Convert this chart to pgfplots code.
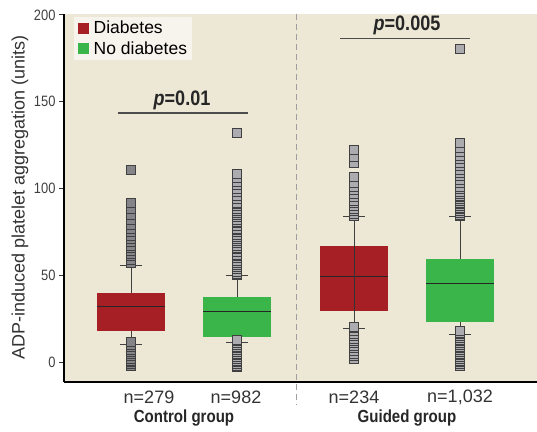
\documentclass[border=0pt]{standalone}
\usepackage{pgfplots}
\pgfplotsset{compat=1.18}
\usepgfplotslibrary{statistics}
\usepackage{fontspec}
\setmainfont{Liberation Sans}
\newfontfamily\cond{Liberation Sans}[FakeStretch=0.86]
\definecolor{dred}{HTML}{A61F24}
\definecolor{dgreen}{HTML}{3AB54A}
\definecolor{bgbeige}{HTML}{EDE8D6}
\definecolor{legbg}{HTML}{F6F4EC}
\definecolor{outl}{HTML}{ABABB0}
\definecolor{outld}{HTML}{858589}
\pgfplotsset{sqleg/.style={legend image code/.code={\fill[#1, draw=none] (1pt,-5.5pt) rectangle (12pt,5.5pt); \path[draw=none, fill=none] (0pt,0pt) rectangle (15pt,0.1pt);}}}
\begin{document}
\begin{tikzpicture}
\useasboundingbox (0pt,0pt) rectangle (537pt,431pt);
\begin{axis}[
  at={(64pt,49pt)}, anchor=south west,
  scale only axis, width=473pt, height=368pt,
  xmin=64, xmax=537, ymin=-11.5, ymax=200.5,
  axis lines*=left, axis line style={line width=1.5pt, black},
  axis background/.style={fill=bgbeige},
  xtick=\empty, ytick={0,50,100,150,200},
  tick align=outside, major tick length=5pt, tick style={line width=0.8pt, black!80},
  yticklabel style={font=\cond\fontsize{15}{18}\selectfont, text=black!75},
  /pgf/number format/assume math mode=true,
  boxplot/draw direction=y,
  clip=false,
  legend style={at={(0.0211,0.9918)}, anchor=north west, fill=legbg, draw=none,
    font=\fontsize{17.5}{20}\selectfont, inner xsep=3pt, inner ysep=2.5pt, row sep=3pt,
    nodes={inner sep=1.5pt}},
  legend cell align=left,
]
\addlegendimage{sqleg=dred}
\addlegendentry{Diabetes}
\addlegendimage{sqleg=dgreen}
\addlegendentry{No diabetes}

\draw[gray!75, dash pattern=on 6pt off 4pt, line width=0.8pt] (axis cs:296,200.5) -- (axis cs:296,-25);

% Control, diabetes
\addplot[boxplot prepared={draw position=131, median=31.9, upper quartile=39.8, lower quartile=18,
   upper whisker=55.5, lower whisker=10.4, box extend=68, whisker extend=22,
   every box/.style={fill=dred, draw=none},
   every median/.style={draw=black!85, line width=1pt},
   every whisker/.style={draw=black!75, line width=0.9pt}},
   mark=square*, mark size=4.5pt, mark options={fill=outld, draw=black!75, line width=0.6pt}]
 table[row sep=\\, y index=0] {data\\ -2\\ -1\\ 0\\ 1\\ 2\\ 3.5\\ 5\\ 6\\ 7\\ 8.5\\ 10\\ 11.5\\ 57\\ 59\\ 61\\ 62.5\\ 64\\ 66\\ 67\\ 69\\ 71\\ 73\\ 75\\ 77\\ 79\\ 82\\ 85\\ 88\\ 91.5\\ 111\\};

% Control, no diabetes
\addplot[boxplot prepared={draw position=237, median=29.4, upper quartile=37.5, lower quartile=14.6,
   upper whisker=49.6, lower whisker=11, box extend=68, whisker extend=22,
   every box/.style={fill=dgreen, draw=none},
   every median/.style={draw=black!85, line width=1pt},
   every whisker/.style={draw=black!75, line width=0.9pt}},
   mark=square*, mark size=4.5pt, mark options={fill=outl, draw=black!75, line width=0.6pt}]
 table[row sep=\\, y index=0] {data\\ -3\\ -2\\ -1\\ 0\\ 1\\ 2\\ 3\\ 4\\ 5\\ 6\\ 7\\ 8\\ 9\\ 10\\ 11\\ 12\\ 13\\ 50\\ 51\\ 52\\ 53.5\\ 55\\ 56\\ 57\\ 58.5\\ 60\\ 61\\ 62\\ 63.5\\ 65\\ 66\\ 67\\ 68.5\\ 70\\ 71\\ 72\\ 73.5\\ 75\\ 76\\ 77\\ 78.5\\ 80\\ 81\\ 82\\ 83.5\\ 85\\ 86\\ 87\\ 88.5\\ 90\\ 91\\ 92\\ 94\\ 96\\ 98\\ 100\\ 102\\ 104\\ 106\\ 108.5\\ 132\\};

% Guided, diabetes
\addplot[boxplot prepared={draw position=354, median=49, upper quartile=66.9, lower quartile=29.6,
   upper whisker=83.6, lower whisker=19.6, box extend=68, whisker extend=22,
   every box/.style={fill=dred, draw=none},
   every median/.style={draw=black!85, line width=1pt},
   every whisker/.style={draw=black!75, line width=0.9pt}},
   mark=square*, mark size=4.5pt, mark options={fill=outl, draw=black!75, line width=0.6pt}]
 table[row sep=\\, y index=0] {data\\ 2\\ 3.5\\ 5\\ 6.5\\ 8\\ 9.5\\ 11\\ 12\\ 13.5\\ 15\\ 16.5\\ 18\\ 19.5\\ 20.5\\ 84\\ 85.5\\ 87\\ 88.5\\ 90\\ 91.5\\ 93\\ 95\\ 97\\ 99\\ 101\\ 103.5\\ 106.5\\ 115\\ 118.5\\ 122.5\\};
\addplot[black!80, line width=0.8pt] coordinates {(354,29.6) (354,66.9)};

% Guided, no diabetes
\addplot[boxplot prepared={draw position=460, median=45, upper quartile=59.4, lower quartile=23.3,
   upper whisker=83.6, lower whisker=16.1, box extend=68, whisker extend=22,
   every box/.style={fill=dgreen, draw=none},
   every median/.style={draw=black!85, line width=1pt},
   every whisker/.style={draw=black!75, line width=0.9pt}},
   mark=square*, mark size=4.5pt, mark options={fill=outl, draw=black!75, line width=0.6pt}]
 table[row sep=\\, y index=0] {data\\ -2\\ -1\\ 0\\ 1\\ 2\\ 3\\ 4\\ 5\\ 6\\ 7\\ 8\\ 9\\ 10\\ 11\\ 12\\ 13\\ 14\\ 15\\ 16\\ 17\\ 18\\ 84\\ 85\\ 86\\ 87\\ 88\\ 89\\ 90\\ 91\\ 92\\ 93\\ 94\\ 95\\ 96\\ 97\\ 98\\ 100\\ 101\\ 103\\ 105\\ 107\\ 109\\ 111\\ 113\\ 115\\ 117\\ 119\\ 121\\ 123.5\\ 126.5\\ 180.5\\};

% significance bars
\draw[black!70, line width=1.2pt] (axis cs:118,143.5) -- (axis cs:248,143.5);
\node[font=\cond\bfseries\fontsize{21}{24}\selectfont, text=black!85] at (axis cs:182,151) {\itshape p\upshape =0.01};
\draw[black!70, line width=1.2pt] (axis cs:340,186.2) -- (axis cs:470,186.2);
\node[font=\cond\bfseries\fontsize{21}{24}\selectfont, text=black!85] at (axis cs:407,194.2) {\itshape p\upshape =0.005};

% n labels
\node[font=\fontsize{18}{21}\selectfont, text=black!80] at (axis cs:149,-20.2) {n=279};
\node[font=\fontsize{18}{21}\selectfont, text=black!80] at (axis cs:236,-20.2) {n=982};
\node[font=\fontsize{18}{21}\selectfont, text=black!80] at (axis cs:354,-20.2) {n=234};
\node[font=\fontsize{18}{21}\selectfont, text=black!80] at (axis cs:460,-20.2) {n=1,032};
\node[font=\cond\bfseries\fontsize{17.5}{20}\selectfont, text=black!85] at (axis cs:184,-32.3) {Control group};
\node[font=\cond\bfseries\fontsize{17.5}{20}\selectfont, text=black!85] at (axis cs:407,-32.3) {Guided group};

\node[rotate=90, font=\fontsize{18}{21}\selectfont, text=black!80] at (axis cs:20,95) {ADP-induced platelet aggregation (units)};
\end{axis}
\end{tikzpicture}
\end{document}
